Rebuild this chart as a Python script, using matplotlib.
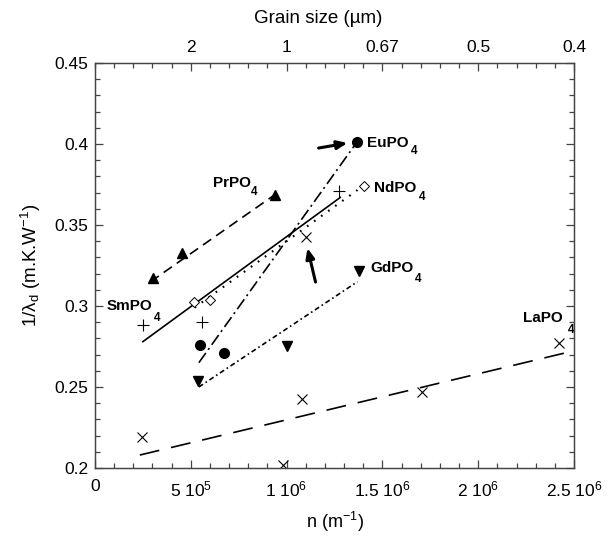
import matplotlib
matplotlib.use("Agg")
import matplotlib.pyplot as plt
from matplotlib.ticker import MultipleLocator

plt.rcParams['font.family'] = ['Liberation Sans', 'DejaVu Sans']
plt.rcParams['mathtext.default'] = 'regular'

# ---------------- data ----------------
# n in m^-1, y = 1/lambda_d in m.K/W
pr_n = [3.02e5, 4.53e5, 9.37e5]
pr_y = [0.317, 0.333, 0.3685]
pr_fit_n = [2.9e5, 9.3e5]
pr_fit_y = [0.315, 0.368]

sm_n = [2.5e5, 5.57e5, 1.276e6]
sm_y = [0.288, 0.290, 0.371]
sm_fit_n = [2.5e5, 1.28e6]
sm_fit_y = [0.278, 0.367]

nd_n = [5.16e5, 5.99e5, 1.406e6]
nd_y = [0.3025, 0.3037, 0.374]
nd_fit_n = [5.2e5, 1.37e6]
nd_fit_y = [0.299, 0.3716]

eu_n = [5.47e5, 6.72e5, 1.365e6]
eu_y = [0.276, 0.271, 0.4012]
eu_fit_n = [5.42e5, 1.354e6]
eu_fit_y = [0.265, 0.399]

gd_n = [5.36e5, 1.0e6, 1.38e6]
gd_y = [0.2537, 0.2753, 0.3216]
gd_fit_n = [5.42e5, 1.37e6]
gd_fit_y = [0.250, 0.315]

la_n = [2.45e5, 9.8e5, 1.078e6, 1.10e6, 1.708e6, 2.42e6]
la_y = [0.219, 0.202, 0.2426, 0.3426, 0.247, 0.277]
la_fit_n = [2.34e5, 2.47e6]
la_fit_y = [0.208, 0.2715]

bottom_ticks = [0, 5e5, 1e6, 1.5e6, 2e6, 2.5e6]
bottom_labels = ["0", "5 10$^{5}$", "1 10$^{6}$", "1.5 10$^{6}$", "2 10$^{6}$", "2.5 10$^{6}$"]
top_ticks = [5e5, 1e6, 1.5e6, 2e6, 2.5e6]
top_labels = ["2", "1", "0.67", "0.5", "0.4"]
y_ticks = [0.2, 0.25, 0.3, 0.35, 0.4, 0.45]
y_labels = ["0.2", "0.25", "0.3", "0.35", "0.4", "0.45"]

# labels: (main text, n, y, sub n, sub y)
labels = [
    ("EuPO", 1.422e6, 0.4006, 1.667e6, 0.3954),
    ("NdPO", 1.458e6, 0.3731, 1.708e6, 0.3670),
    ("PrPO", 0.615e6, 0.3762, 0.833e6, 0.3704),
    ("GdPO", 1.4375e6, 0.3235, 1.6875e6, 0.3164),
    ("SmPO", 0.0625e6, 0.2997, 0.3255e6, 0.2926),
    ("LaPO", 2.234e6, 0.2926, 2.484e6, 0.2852),
]

arrows = [
    # (tail n, tail y, tip n, tip y)
    (1.167e6, 0.3975, 1.318e6, 0.4006),
    (1.151e6, 0.3148, 1.109e6, 0.3358),
]

# ---------------- figure ----------------
fig = plt.figure(figsize=(6.15, 5.42), dpi=100)
ax = fig.add_axes([95/615, 1-468/542, 479/615, 405/542])
ax.set_xlim(0, 2.5e6)
ax.set_ylim(0.2, 0.45)

lw = 1.2
k = 'black'
ax.plot(pr_fit_n, pr_fit_y, color=k, lw=lw, linestyle=(0, (6, 3.6)))
ax.plot(sm_fit_n, sm_fit_y, color=k, lw=lw, linestyle='-')
ax.plot(nd_fit_n, nd_fit_y, color=k, lw=lw*1.3, linestyle=(0, (0.8, 3.2)))
ax.plot(eu_fit_n, eu_fit_y, color=k, lw=lw, linestyle=(0, (7.2, 2.4, 1.2, 2.4)))
ax.plot(gd_fit_n, gd_fit_y, color=k, lw=lw, linestyle=(0, (3, 1.8, 1, 1.8)))
ax.plot(la_fit_n, la_fit_y, color=k, lw=lw, linestyle=(0, (12, 7.2)))

ax.plot(pr_n, pr_y, linestyle='none', marker='^', ms=6.5, color=k)
ax.plot(sm_n, sm_y, linestyle='none', marker='+', ms=8, mew=0.8, color=k)
ax.plot(nd_n, nd_y, linestyle='none', marker='D', ms=5, mew=0.7, mfc='white', mec=k)
ax.plot(eu_n, eu_y, linestyle='none', marker='o', ms=7, color=k)
ax.plot(gd_n, gd_y, linestyle='none', marker='v', ms=6.5, color=k)
ax.plot(la_n, la_y, linestyle='none', marker='x', ms=7, mew=0.8, color=k)

for txt, tn, ty, sn, sy in labels:
    ax.text(tn, ty, txt, fontsize=11, fontweight='bold', ha='left', va='center')
    ax.text(sn, sy, "4", fontsize=8.5, fontweight='bold', ha='center', va='center')

for tn, ty, hn, hy in arrows:
    ax.annotate("", xy=(hn, hy), xytext=(tn, ty),
                arrowprops=dict(arrowstyle='-|>,head_length=0.6,head_width=0.25',
                                color=k, lw=2.2, shrinkA=0, shrinkB=0))

spine_c = '#444444'
for s in ax.spines.values():
    s.set_color(spine_c)
    s.set_linewidth(0.9)

ax.set_xticks(bottom_ticks)
ax.set_xticklabels(bottom_labels)
ax.set_yticks(y_ticks)
ax.set_yticklabels(y_labels)
ax.xaxis.set_minor_locator(MultipleLocator(1e5))
ax.yaxis.set_minor_locator(MultipleLocator(0.01))
ax.tick_params(which='both', direction='in', color=spine_c, labelsize=12.5, right=True)
ax.tick_params(which='major', length=6, width=0.9)
ax.tick_params(axis='x', which='major', pad=8)
ax.tick_params(axis='y', which='major', pad=5)
ax.tick_params(which='minor', length=3.5, width=0.9)
ax.tick_params(axis='y', which='both', labelright=False)

ax.set_xlabel("n (m$^{-1}$)", fontsize=13, labelpad=8)
ax.set_ylabel("1/$\\lambda_{d}$ (m.K.W$^{-1}$)", fontsize=13.5, labelpad=8)

ax2 = ax.twiny()
ax2.set_xlim(ax.get_xlim())
ax2.set_xticks(top_ticks)
ax2.set_xticklabels(top_labels)
ax2.xaxis.set_minor_locator(MultipleLocator(1e5))
ax2.tick_params(which='both', direction='in', color=spine_c, labelsize=12.5)
ax2.tick_params(which='major', length=6, width=0.9, pad=6)
ax2.tick_params(which='minor', length=3.5, width=0.9)
for s in ax2.spines.values():
    s.set_color(spine_c)
    s.set_linewidth(0.9)
ax2.set_xlabel("Grain size (µm)", fontsize=13.5, labelpad=10)
ax2.xaxis.set_label_coords((318 - 95) / 479, 1.0 + 40 / 405)

fig.savefig("out.png", dpi=100)
